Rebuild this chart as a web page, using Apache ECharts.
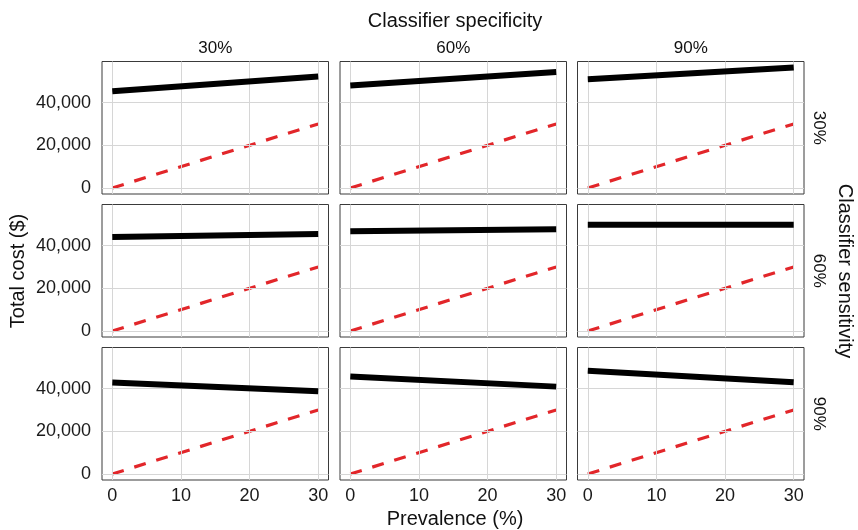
<!DOCTYPE html>
<html>
<head>
<meta charset="utf-8">
<script src="https://cdn.jsdelivr.net/npm/echarts@6/dist/echarts.min.js"></script>
<style>
  html, body { margin: 0; padding: 0; background: #fff; }
  #chart { width: 858px; height: 530px; }
</style>
</head>
<body>
<div id="chart"></div>
<script>
// facet levels
const specLevels = ['30%', '60%', '90%']; // columns
const sensLevels = ['30%', '60%', '90%']; // rows

// x values (prevalence, %)
const prevalence = [0, 30];

// total cost at prevalence 0 and 30, one pair per specificity column
const costSens30 = [[45300, 52200], [48000, 54300], [50900, 56400]];
const costSens60 = [[44000, 45400], [46700, 47600], [49700, 49700]];
const costSens90 = [[42800, 38700], [45600, 40900], [48300, 42900]];
// red dashed reference line
const refCost = [0, 30000];

const xTicks = [0, 10, 20, 30];
const yTicks = [0, 20000, 40000];

const costRows = [costSens30, costSens60, costSens90];

// ggplot-like 5% expansion
const allY = costRows.flat(2).concat(refCost);
const yLo = Math.min(...allY), yHi = Math.max(...allY);
const yPad = (yHi - yLo) * 0.05;
const xPad = (prevalence[1] - prevalence[0]) * 0.05;

const colLeft = [102, 340, 577.5];
const rowTop = [61.5, 204.5, 347.5];
const panelW = 226.5, panelH = 132.5;

const font = 'Liberation Sans, Arial, Helvetica, sans-serif';
const grids = [], xAxes = [], yAxes = [], series = [];

let k = 0;
for (let r = 0; r < 3; r++) {
  for (let c = 0; c < 3; c++) {
    grids.push({
      left: colLeft[c], top: rowTop[r], width: panelW, height: panelH,
      show: true, borderColor: '#3a3a3a', borderWidth: 1, backgroundColor: '#fff'
    });
    const bottomRow = r === 2, leftCol = c === 0;
    xAxes.push({
      type: 'value', gridIndex: k, min: prevalence[0] - xPad, max: prevalence[1] + xPad,
      axisLine: { show: false },
      splitLine: { show: false },
      axisTick: { show: bottomRow, customValues: xTicks, length: 4, lineStyle: { color: '#444' } },
      axisLabel: { show: bottomRow, customValues: xTicks, margin: 7, color: '#1a1a1a', fontSize: 18, fontFamily: font }
    });
    yAxes.push({
      type: 'value', gridIndex: k, min: yLo - yPad, max: yHi + yPad,
      axisLine: { show: false },
      splitLine: { show: false },
      axisTick: { show: leftCol, customValues: yTicks, length: 4, lineStyle: { color: '#444' } },
      axisLabel: {
        show: leftCol, customValues: yTicks, margin: 11, color: '#1a1a1a', fontSize: 18, fontFamily: font,
        formatter: v => v.toLocaleString('en-US')
      }
    });
    // gridlines
    series.push({
      type: 'line', xAxisIndex: k, yAxisIndex: k, data: [], z: 1, silent: true,
      markLine: {
        silent: true, symbol: 'none', animation: false,
        label: { show: false },
        lineStyle: { color: '#d6d6d6', width: 1, type: 'solid' },
        data: yTicks.map(v => ({ yAxis: v })).concat(xTicks.map(v => ({ xAxis: v })))
      }
    });
    series.push({
      type: 'line', xAxisIndex: k, yAxisIndex: k, z: 3, showSymbol: false, animation: false,
      clip: false, silent: true,
      data: prevalence.map((x, i) => [x, refCost[i]]),
      lineStyle: { color: '#e2262a', width: 3.2, type: [12, 11] }
    });
    series.push({
      type: 'line', xAxisIndex: k, yAxisIndex: k, z: 10, showSymbol: false, animation: false,
      clip: false, silent: true,
      data: prevalence.map((x, i) => [x, costRows[r][c][i]]),
      lineStyle: { color: '#000', width: 6, cap: 'butt', join: 'miter' }
    });
    k++;
  }
}

const txt = (x, y, text, size, rot) => ({
  type: 'text', x: x, y: y, rotation: rot || 0, silent: true,
  style: { text: text, fill: '#111', font: size + 'px ' + font, align: 'center', verticalAlign: 'middle' }
});

const graphic = [
  txt(455, 21, 'Classifier specificity', 20),
  txt(455, 519, 'Prevalence (%)', 20),
  txt(18, 271, 'Total cost ($)', 20, Math.PI / 2),
  txt(845, 271, 'Classifier sensitivity', 20, -Math.PI / 2)
];
specLevels.forEach((s, c) => graphic.push(txt(colLeft[c] + panelW / 2, 48, s, 17)));
sensLevels.forEach((s, r) => graphic.push(txt(819, rowTop[r] + panelH / 2, s, 17, -Math.PI / 2)));

const chart = echarts.init(document.getElementById('chart'));
chart.setOption({
  animation: false,
  grid: grids,
  xAxis: xAxes,
  yAxis: yAxes,
  series: series,
  graphic: graphic
});
window.addEventListener('resize', () => chart.resize());
</script>
</body>
</html>
